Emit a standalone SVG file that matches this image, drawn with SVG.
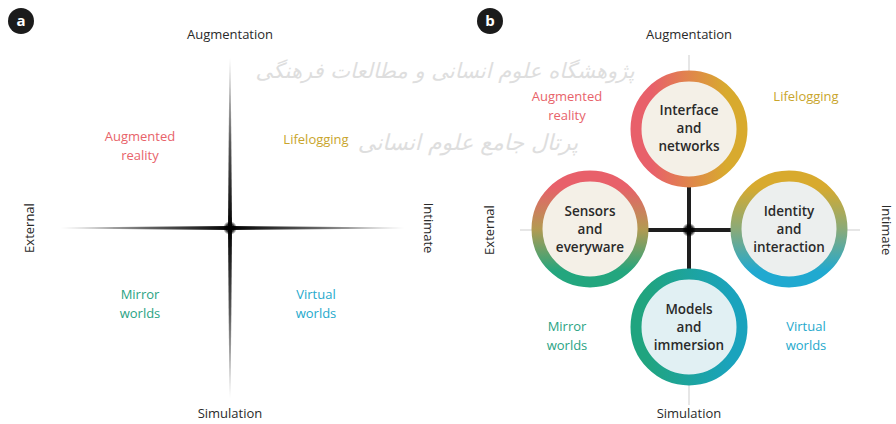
<svg xmlns="http://www.w3.org/2000/svg" width="896" height="424" viewBox="0 0 896 424">
<defs>
<style>
text{font-family:"Open Sans","Noto Sans","DejaVu Sans",sans-serif;text-anchor:middle}
.ax{font-size:13px;fill:#2a2a2a}
.q{font-size:13px}
.red{fill:#e8636a}.gold{fill:#c9a52c}.grn{fill:#2aa383}.blu{fill:#25a9cc}
.nl{font-size:13.5px;font-weight:600;fill:#2a2a2a}
.badge{fill:#1b1b1b}
.bl{font-size:15px;font-weight:700;fill:#fff}
.wm{font-family:"DejaVu Sans",sans-serif;fill:#dedede;font-style:italic}
.ring{stroke-width:11}
</style>
<linearGradient id="hx" x1="0" y1="0" x2="1" y2="0">
<stop offset="0" stop-color="#000" stop-opacity="0"/><stop offset="0.25" stop-color="#000" stop-opacity="0.6"/><stop offset="0.5" stop-color="#000"/><stop offset="0.75" stop-color="#000" stop-opacity="0.6"/><stop offset="1" stop-color="#000" stop-opacity="0"/>
</linearGradient>
<linearGradient id="vx" x1="0" y1="0" x2="0" y2="1">
<stop offset="0" stop-color="#000" stop-opacity="0"/><stop offset="0.25" stop-color="#000" stop-opacity="0.65"/><stop offset="0.5" stop-color="#000"/><stop offset="0.75" stop-color="#000" stop-opacity="0.65"/><stop offset="1" stop-color="#000" stop-opacity="0"/>
</linearGradient>
<radialGradient id="blob"><stop offset="0" stop-color="#000"/><stop offset="0.6" stop-color="#000" stop-opacity="0.8"/><stop offset="1" stop-color="#000" stop-opacity="0"/></radialGradient>
<linearGradient id="gTop" x1="0" y1="0" x2="1" y2="0"><stop offset="0.15" stop-color="#e8606a"/><stop offset="0.85" stop-color="#d8aa2e"/></linearGradient>
<linearGradient id="gLeft" x1="0" y1="0" x2="0" y2="1"><stop offset="0.1" stop-color="#e8606a"/><stop offset="0.5" stop-color="#b39a52"/><stop offset="0.9" stop-color="#23a67e"/></linearGradient>
<linearGradient id="gRight" x1="0" y1="0" x2="0" y2="1"><stop offset="0.1" stop-color="#d8aa2e"/><stop offset="0.5" stop-color="#8aaa78"/><stop offset="0.9" stop-color="#20a9d0"/></linearGradient>
<linearGradient id="gBot" x1="0" y1="0" x2="1" y2="0"><stop offset="0.1" stop-color="#20a47f"/><stop offset="0.9" stop-color="#1aa3bd"/></linearGradient>
</defs>
<rect width="896" height="424" fill="#fff"/>
<g id="watermark">
<text class="wm" x="445" y="78" font-size="21" direction="rtl">پژوهشگاه علوم انسانی و مطالعات فرهنگی</text>
<text class="wm" x="468" y="150" font-size="22" direction="rtl">پرتال جامع علوم انسانی</text>
</g>
<g id="panel-a">
<g id="badge-a"><circle class="badge" cx="21" cy="21" r="13"/><text class="bl" x="21" y="26">a</text></g>
<g id="axes-a">
<polygon points="60,227.4 230,226 405,227.4 405,228.6 230,230 60,228.6" fill="url(#hx)"/>
<polygon points="229.4,58 228,228 229.4,398 230.6,398 232,228 230.6,58" fill="url(#vx)"/>
<circle cx="230" cy="228" r="7" fill="url(#blob)"/>
</g>
<text class="ax" x="230" y="39">Augmentation</text>
<text class="ax" x="230" y="418">Simulation</text>
<text class="ax" transform="translate(34,228) rotate(-90)">External</text>
<text class="ax" transform="translate(424,228) rotate(90)">Intimate</text>
<text class="q red" x="140" y="141">Augmented</text>
<text class="q red" x="140" y="160">reality</text>
<text class="q gold" x="316" y="144">Lifelogging</text>
<text class="q grn" x="140" y="299">Mirror</text>
<text class="q grn" x="140" y="318">worlds</text>
<text class="q blu" x="316" y="299">Virtual</text>
<text class="q blu" x="316" y="318">worlds</text>
</g>
<g id="panel-b">
<g id="badge-b"><circle class="badge" cx="490" cy="21" r="13"/><text class="bl" x="490" y="26">b</text></g>
<g id="connectors">
<line x1="520" y1="230" x2="860" y2="230" stroke="#e6e6e6" stroke-width="2"/>
<line x1="689" y1="55" x2="689" y2="405" stroke="#e6e6e6" stroke-width="2"/>
<line x1="640" y1="230" x2="740" y2="230" stroke="#1e1e1e" stroke-width="4"/>
<line x1="689" y1="180" x2="689" y2="280" stroke="#1e1e1e" stroke-width="4"/>
<circle cx="689" cy="230" r="7" fill="url(#blob)"/>
</g>
<g id="node-interface">
<circle class="ring" cx="689" cy="129" r="53" fill="#f4f0e7" stroke="url(#gTop)"/>
<text class="nl" x="689" y="115">Interface</text>
<text class="nl" x="689" y="133">and</text>
<text class="nl" x="689" y="151">networks</text>
</g>
<g id="node-sensors">
<circle class="ring" cx="590" cy="229" r="53" fill="#f4f0e7" stroke="url(#gLeft)"/>
<text class="nl" x="590" y="216">Sensors</text>
<text class="nl" x="590" y="234">and</text>
<text class="nl" x="590" y="252">everyware</text>
</g>
<g id="node-identity">
<circle class="ring" cx="789" cy="229" r="53" fill="#ecefee" stroke="url(#gRight)"/>
<text class="nl" x="789" y="216">Identity</text>
<text class="nl" x="789" y="234">and</text>
<text class="nl" x="789" y="252">interaction</text>
</g>
<g id="node-models">
<circle class="ring" cx="689" cy="327" r="53" fill="#e1f0f3" stroke="url(#gBot)"/>
<text class="nl" x="689" y="314">Models</text>
<text class="nl" x="689" y="332">and</text>
<text class="nl" x="689" y="350">immersion</text>
</g>
<text class="ax" x="689" y="39">Augmentation</text>
<text class="ax" x="689" y="418">Simulation</text>
<text class="ax" transform="translate(494,230) rotate(-90)">External</text>
<text class="ax" transform="translate(882,230) rotate(90)">Intimate</text>
<text class="q red" x="567" y="101">Augmented</text>
<text class="q red" x="567" y="120">reality</text>
<text class="q gold" x="806" y="101">Lifelogging</text>
<text class="q grn" x="567" y="331">Mirror</text>
<text class="q grn" x="567" y="350">worlds</text>
<text class="q blu" x="806" y="331">Virtual</text>
<text class="q blu" x="806" y="350">worlds</text>
</g>
</svg>
